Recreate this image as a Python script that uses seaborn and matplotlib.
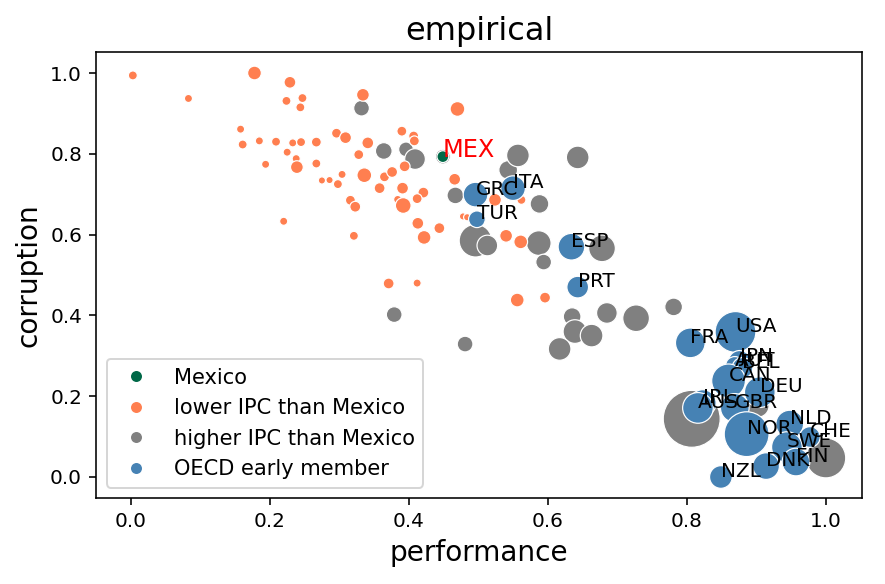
import pandas as pd
import matplotlib
matplotlib.use("Agg")
import matplotlib.pyplot as plt
import seaborn as sns
from matplotlib.lines import Line2D

# lower IPC than Mexico
lower_perf = [0.003, 0.178, 0.229, 0.083, 0.224, 0.247, 0.244, 0.158, 0.161, 0.185,
              0.209, 0.233, 0.245, 0.267, 0.225, 0.238, 0.239, 0.194, 0.220, 0.334,
              0.470, 0.296, 0.309, 0.267, 0.341, 0.328, 0.390, 0.407, 0.408, 0.336,
              0.304, 0.286, 0.275, 0.298, 0.365, 0.376, 0.358, 0.394, 0.391, 0.421,
              0.412, 0.316, 0.323, 0.384, 0.392, 0.466, 0.413, 0.422, 0.444, 0.321,
              0.371, 0.412, 0.524, 0.478, 0.484, 0.562, 0.540, 0.561, 0.556, 0.596]
lower_corr = [0.994, 1.000, 0.977, 0.937, 0.931, 0.938, 0.915, 0.861, 0.823, 0.832,
              0.830, 0.827, 0.829, 0.829, 0.804, 0.788, 0.767, 0.774, 0.633, 0.946,
              0.911, 0.851, 0.840, 0.776, 0.827, 0.798, 0.856, 0.844, 0.832, 0.747,
              0.749, 0.735, 0.734, 0.725, 0.743, 0.755, 0.715, 0.769, 0.715, 0.704,
              0.689, 0.685, 0.669, 0.687, 0.672, 0.737, 0.628, 0.593, 0.616, 0.597,
              0.479, 0.480, 0.686, 0.645, 0.643, 0.686, 0.597, 0.582, 0.438, 0.444]
lower_pop = [64, 169, 121, 49, 64, 64, 64, 49, 64, 49,
             64, 49, 64, 81, 49, 49, 144, 49, 49, 144,
             196, 81, 121, 64, 121, 81, 81, 81, 81, 196,
             49, 36, 36, 64, 81, 100, 100, 100, 121, 100,
             81, 81, 100, 49, 225, 121, 121, 169, 100, 64,
             100, 49, 144, 36, 36, 64, 144, 169, 169, 100]

# higher IPC than Mexico
higher_perf = [0.332, 0.364, 0.396, 0.409, 0.467, 0.496, 0.513, 0.543, 0.557, 0.588,
               0.587, 0.594, 0.643, 0.678, 0.379, 0.481, 0.635, 0.685, 0.727, 0.781,
               0.639, 0.663, 0.617, 0.807, 0.902, 1.000, 0.449]
higher_corr = [0.913, 0.807, 0.811, 0.787, 0.697, 0.585, 0.573, 0.760, 0.796, 0.676,
               0.579, 0.532, 0.791, 0.566, 0.402, 0.329, 0.397, 0.406, 0.393, 0.421,
               0.360, 0.350, 0.317, 0.144, 0.176, 0.047, 0.793]
higher_pop = [225, 256, 196, 400, 256, 1024, 400, 324, 484, 324,
              576, 225, 484, 676, 225, 225, 289, 400, 676, 289,
              529, 484, 484, 3136, 484, 1521, 196]

# OECD early members
oecd_code = ["GRC", "ITA", "TUR", "ESP", "PRT", "FRA", "USA", "JPN", "AUT", "BEL", "CAN",
             "DEU", "IRL", "AUS", "GBR", "NOR", "NLD", "CHE", "SWE", "FIN", "DNK", "NZL"]
oecd_perf = [0.496, 0.550, 0.498, 0.634, 0.643, 0.805, 0.870, 0.876, 0.869, 0.880, 0.860,
             0.905, 0.823, 0.816, 0.869, 0.886, 0.948, 0.977, 0.944, 0.957, 0.914, 0.849]
oecd_corr = [0.699, 0.715, 0.638, 0.570, 0.470, 0.332, 0.359, 0.285, 0.275, 0.270, 0.238,
             0.210, 0.183, 0.171, 0.171, 0.106, 0.131, 0.099, 0.074, 0.037, 0.027, 0.000]
oecd_pop = [576, 576, 256, 676, 441, 841, 1600, 484, 324, 400, 1089,
            900, 676, 900, 784, 1936, 729, 400, 900, 729, 676, 484]

# Mexico
mex_perf = [0.449]
mex_corr = [0.793]
mex_pop = [121]

groups = ["Mexico", "lower IPC than Mexico", "higher IPC than Mexico", "OECD early member"]
palette = {"Mexico": "#006847", "lower IPC than Mexico": "coral",
           "higher IPC than Mexico": "gray", "OECD early member": "steelblue"}

df = pd.concat([
    pd.DataFrame({"performance": higher_perf, "corruption": higher_corr,
                  "pop": higher_pop, "group": groups[2]}),
    pd.DataFrame({"performance": lower_perf, "corruption": lower_corr,
                  "pop": lower_pop, "group": groups[1]}),
    pd.DataFrame({"performance": oecd_perf, "corruption": oecd_corr,
                  "pop": oecd_pop, "group": groups[3]}),
    pd.DataFrame({"performance": mex_perf, "corruption": mex_corr,
                  "pop": mex_pop, "group": groups[0]}),
], ignore_index=True)

fig = plt.figure(figsize=(885 / 144, 584 / 144), dpi=144)
ax = fig.add_axes([96 / 885, 1 - 498 / 584, 766 / 885, 446 / 584])

sns.scatterplot(data=df, x="performance", y="corruption", hue="group", size="pop",
                palette=palette, sizes=(13, 810), edgecolor="white", linewidth=0.6,
                legend=False, ax=ax)

for code, x, y in zip(oecd_code, oecd_perf, oecd_corr):
    ax.text(x, y, code, fontsize=10, color="black")
ax.text(mex_perf[0], mex_corr[0], "MEX", fontsize=12, color="red")

handles = [Line2D([], [], marker="o", ls="", color=palette[g], markersize=6.5,
                  markeredgecolor="white") for g in groups]
ax.legend(handles, groups, loc="lower left", fontsize=10.5)

ax.set_xlim(-0.05, 1.052)
ax.set_ylim(-0.052, 1.052)
ax.set_title("empirical", fontsize=16)
ax.set_xlabel("performance", fontsize=14)
ax.set_ylabel("corruption", fontsize=14)

fig.savefig("out.png", dpi=144)
